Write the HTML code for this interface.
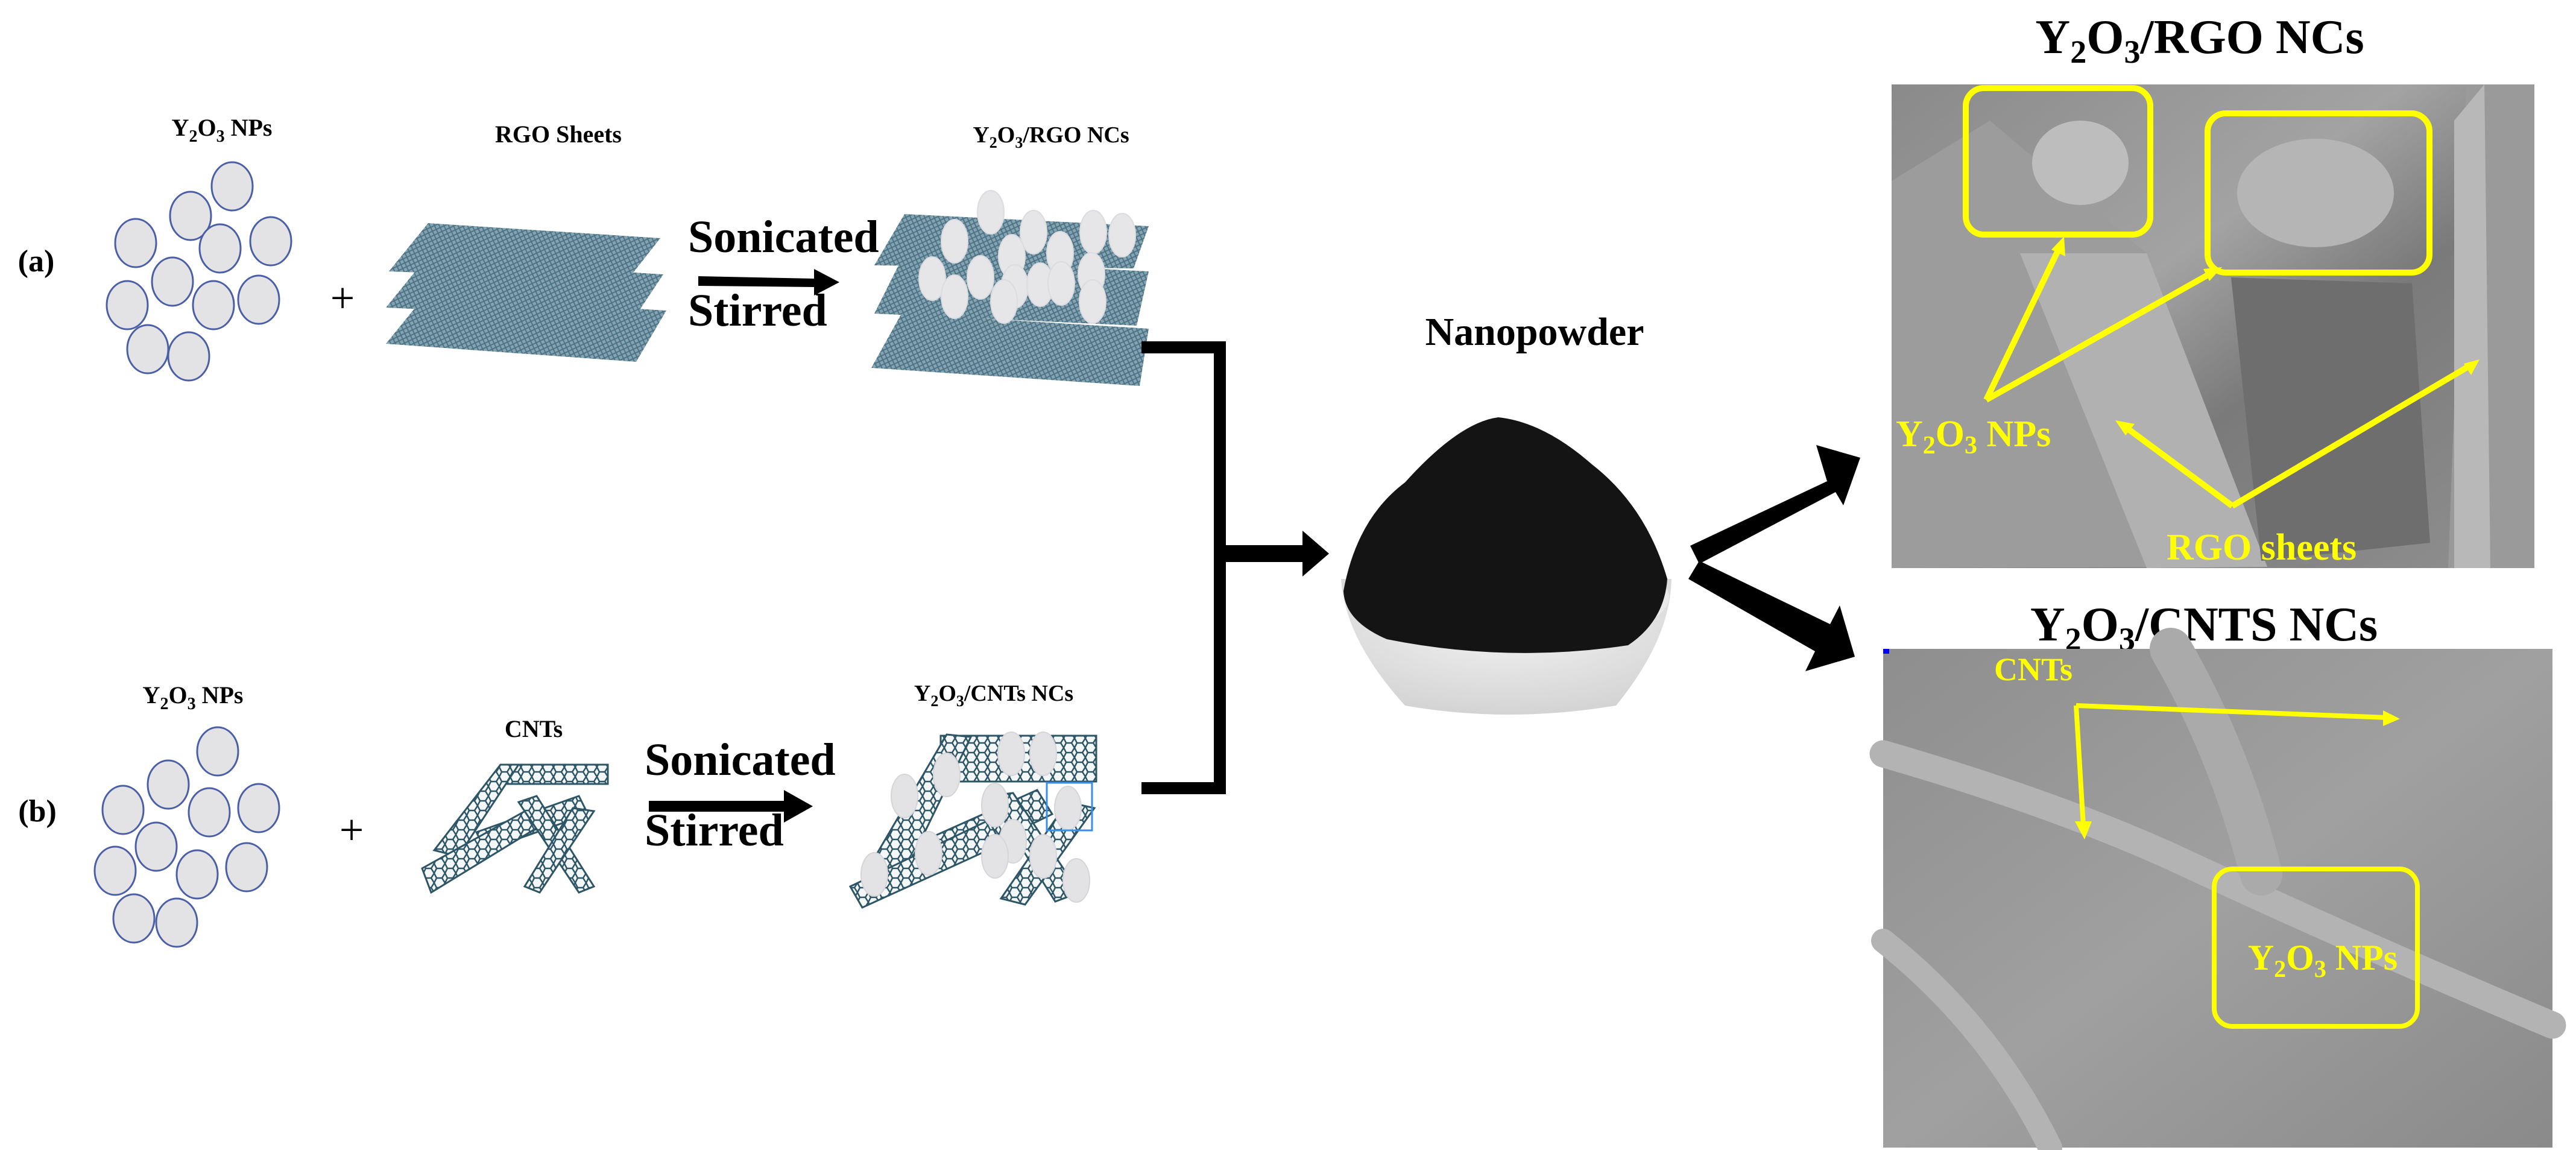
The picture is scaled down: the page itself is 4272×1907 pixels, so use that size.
<!DOCTYPE html>
<html><head><meta charset="utf-8"><style>
html,body{margin:0;padding:0;background:#fff;}
svg{display:block;}
text{font-family:"Liberation Serif",serif;font-weight:bold;}
</style></head><body>
<svg width="4272" height="1907" viewBox="0 0 4272 1907" xmlns="http://www.w3.org/2000/svg">
<defs>
<pattern id="mesh" width="10" height="10" patternUnits="userSpaceOnUse" patternTransform="rotate(20)">
<rect width="10" height="10" fill="#6f95a6"/>
<path d="M0 0L10 10M10 0L0 10" stroke="#2f5a6e" stroke-width="2"/>
</pattern>
<pattern id="hex" width="18" height="16" patternUnits="userSpaceOnUse">
<rect width="18" height="16" fill="#f4f7f8"/>
<path d="M4 0L13 0L18 8L13 16L4 16L0 8Z" fill="none" stroke="#2e5566" stroke-width="2.5"/>
</pattern>
<linearGradient id="sem1" x1="0" y1="0" x2="1" y2="1">
<stop offset="0" stop-color="#8a8a8a"/><stop offset="0.4" stop-color="#a3a3a3"/><stop offset="0.6" stop-color="#7a7a7a"/><stop offset="1" stop-color="#909090"/>
</linearGradient>
<linearGradient id="sem2" x1="0" y1="0" x2="1" y2="1">
<stop offset="0" stop-color="#8e8e8e"/><stop offset="0.5" stop-color="#a0a0a0"/><stop offset="1" stop-color="#8a8a8a"/>
</linearGradient>
<radialGradient id="bowl" cx="0.5" cy="0.3" r="0.8">
<stop offset="0" stop-color="#f4f4f4"/><stop offset="1" stop-color="#cfcfcf"/>
</radialGradient>
</defs>

<!-- (a) row -->
<text x="60" y="450" font-size="52" text-anchor="middle">(a)</text>
<text x="368" y="225" font-size="40" text-anchor="middle">Y<tspan font-size="28" dy="10">2</tspan><tspan dy="-10">O</tspan><tspan font-size="28" dy="10">3</tspan><tspan dy="-10"> NPs</tspan></text>
<g fill="#e3e3e6" stroke="#4a5fa6" stroke-width="3">
<ellipse cx="385" cy="309" rx="34" ry="40"/><ellipse cx="316" cy="358" rx="34" ry="40"/><ellipse cx="225" cy="403" rx="34" ry="40"/>
<ellipse cx="365" cy="412" rx="34" ry="40"/><ellipse cx="449" cy="400" rx="34" ry="40"/><ellipse cx="286" cy="467" rx="34" ry="40"/>
<ellipse cx="211" cy="506" rx="34" ry="40"/><ellipse cx="354" cy="506" rx="34" ry="40"/><ellipse cx="429" cy="497" rx="34" ry="40"/>
<ellipse cx="245" cy="579" rx="34" ry="40"/><ellipse cx="313" cy="591" rx="34" ry="40"/>
</g>
<text x="568" y="518" font-size="72" font-weight="normal" text-anchor="middle" style="font-weight:normal">+</text>
<text x="926" y="236" font-size="40" text-anchor="middle">RGO Sheets</text>
<g opacity="0.85">
<path d="M710 370 L1095 395 L1040 465 L645 450 Z" fill="url(#mesh)"/>
<path d="M705 430 L1100 455 L1050 530 L640 510 Z" fill="url(#mesh)"/>
<path d="M705 490 L1105 515 L1055 600 L640 570 Z" fill="url(#mesh)"/>
</g>
<text x="1141" y="418" font-size="76">Sonicated</text>
<text x="1141" y="540" font-size="76">Stirred</text>
<path d="M1158 458 L1350 462 L1350 446 L1392 468 L1350 490 L1350 476 L1158 474 Z" fill="#000"/>
<text x="1743" y="236" font-size="38" text-anchor="middle">Y<tspan font-size="26" dy="9">2</tspan><tspan dy="-9">O</tspan><tspan font-size="26" dy="9">3</tspan><tspan dy="-9">/RGO NCs</tspan></text>
<g opacity="0.85">
<path d="M1500 355 L1905 375 L1880 445 L1450 440 Z" fill="url(#mesh)"/>
<path d="M1495 430 L1905 450 L1885 540 L1450 520 Z" fill="url(#mesh)"/>
<path d="M1495 520 L1905 545 L1890 640 L1445 610 Z" fill="url(#mesh)"/>
</g>
<g fill="#e6e6e8" stroke="#dcdce0" stroke-width="2">
<ellipse cx="1643" cy="352" rx="22" ry="36"/><ellipse cx="1583" cy="400" rx="22" ry="36"/><ellipse cx="1714" cy="385" rx="22" ry="36"/>
<ellipse cx="1813" cy="385" rx="22" ry="36"/><ellipse cx="1861" cy="390" rx="22" ry="36"/><ellipse cx="1678" cy="425" rx="22" ry="36"/>
<ellipse cx="1758" cy="420" rx="22" ry="36"/><ellipse cx="1546" cy="462" rx="22" ry="36"/><ellipse cx="1626" cy="460" rx="22" ry="36"/>
<ellipse cx="1683" cy="475" rx="22" ry="36"/><ellipse cx="1725" cy="472" rx="22" ry="36"/><ellipse cx="1760" cy="470" rx="22" ry="36"/>
<ellipse cx="1810" cy="455" rx="22" ry="36"/><ellipse cx="1583" cy="492" rx="22" ry="36"/><ellipse cx="1665" cy="500" rx="22" ry="36"/>
<ellipse cx="1812" cy="500" rx="22" ry="36"/>
</g>

<!-- connector -->
<path d="M1893 576 L2023 576 L2023 1307 L1893 1307" fill="none" stroke="#000" stroke-width="20"/>
<path d="M2013 904 L2160 904 L2160 880 L2204 918 L2160 956 L2160 932 L2013 932 Z" fill="#000"/>

<!-- (b) row -->
<text x="62" y="1362" font-size="52" text-anchor="middle">(b)</text>
<text x="320" y="1166" font-size="40" text-anchor="middle">Y<tspan font-size="28" dy="10">2</tspan><tspan dy="-10">O</tspan><tspan font-size="28" dy="10">3</tspan><tspan dy="-10"> NPs</tspan></text>
<g fill="#e3e3e6" stroke="#4a5fa6" stroke-width="3">
<ellipse cx="361" cy="1246" rx="34" ry="40"/><ellipse cx="279" cy="1301" rx="34" ry="40"/><ellipse cx="204" cy="1343" rx="34" ry="40"/>
<ellipse cx="347" cy="1347" rx="34" ry="40"/><ellipse cx="429" cy="1340" rx="34" ry="40"/><ellipse cx="259" cy="1404" rx="34" ry="40"/>
<ellipse cx="191" cy="1444" rx="34" ry="40"/><ellipse cx="327" cy="1450" rx="34" ry="40"/><ellipse cx="409" cy="1438" rx="34" ry="40"/>
<ellipse cx="222" cy="1523" rx="34" ry="40"/><ellipse cx="293" cy="1530" rx="34" ry="40"/>
</g>
<text x="583" y="1400" font-size="72" text-anchor="middle" style="font-weight:normal">+</text>
<text x="885" y="1222" font-size="40" text-anchor="middle">CNTs</text>
<g stroke="#2e5566" stroke-width="3">
<path d="M840 1268 L1008 1268 L1008 1300 L840 1300 Z" fill="url(#hex)"/>
<path d="M830 1268 L860 1268 L760 1420 L720 1410 Z" fill="url(#hex)"/>
<path d="M790 1380 L960 1320 L975 1350 L805 1410 Z" fill="url(#hex)"/>
<path d="M700 1440 L880 1340 L895 1370 L715 1480 Z" fill="url(#hex)"/>
<path d="M860 1330 L890 1320 L985 1470 L960 1480 Z" fill="url(#hex)"/>
<path d="M950 1340 L985 1345 L895 1480 L870 1470 Z" fill="url(#hex)"/>
</g>
<text x="1069" y="1285" font-size="76">Sonicated</text>
<text x="1069" y="1402" font-size="76">Stirred</text>
<path d="M1076 1328 L1300 1328 L1300 1310 L1348 1337 L1300 1364 L1300 1346 L1076 1346 Z" fill="#000"/>
<text x="1648" y="1162" font-size="38" text-anchor="middle">Y<tspan font-size="26" dy="9">2</tspan><tspan dy="-9">O</tspan><tspan font-size="26" dy="9">3</tspan><tspan dy="-9">/CNTs NCs</tspan></text>
<g stroke="#2e5566" stroke-width="3">
<path d="M1560 1220 L1818 1220 L1818 1296 L1560 1296 Z" fill="url(#hex)"/>
<path d="M1570 1218 L1610 1222 L1490 1470 L1440 1440 Z" fill="url(#hex)"/>
<path d="M1530 1395 L1720 1310 L1745 1350 L1560 1440 Z" fill="url(#hex)"/>
<path d="M1410 1470 L1640 1360 L1660 1400 L1430 1505 Z" fill="url(#hex)"/>
<path d="M1640 1320 L1680 1315 L1790 1480 L1750 1495 Z" fill="url(#hex)"/>
<path d="M1770 1330 L1815 1340 L1700 1500 L1660 1490 Z" fill="url(#hex)"/>
</g>
<g fill="#e3e3e6" stroke="#d5d5da" stroke-width="2">
<ellipse cx="1677" cy="1250" rx="22" ry="36"/><ellipse cx="1730" cy="1250" rx="22" ry="36"/><ellipse cx="1570" cy="1285" rx="22" ry="36"/>
<ellipse cx="1500" cy="1320" rx="22" ry="36"/><ellipse cx="1650" cy="1335" rx="22" ry="36"/><ellipse cx="1771" cy="1340" rx="22" ry="36"/>
<ellipse cx="1680" cy="1395" rx="22" ry="36"/><ellipse cx="1540" cy="1415" rx="22" ry="36"/><ellipse cx="1650" cy="1420" rx="22" ry="36"/>
<ellipse cx="1730" cy="1420" rx="22" ry="36"/><ellipse cx="1450" cy="1450" rx="22" ry="36"/><ellipse cx="1785" cy="1460" rx="22" ry="36"/>
</g>
<rect x="1736" y="1298" width="75" height="79" fill="none" stroke="#3a8ee8" stroke-width="3"/>

<!-- nanopowder -->
<text x="2545" y="572" font-size="66" text-anchor="middle">Nanopowder</text>
<path d="M2224 960 Q2230 1060 2330 1170 Q2500 1200 2680 1170 Q2770 1060 2772 960 Z" fill="url(#bowl)"/>
<ellipse cx="2498" cy="990" rx="270" ry="85" fill="#e9e9e9"/>
<path d="M2228 980 Q2250 860 2330 800 Q2420 700 2485 692 Q2560 700 2640 770 Q2730 840 2765 960 Q2760 1030 2700 1070 Q2500 1100 2300 1060 Q2230 1030 2228 980 Z" fill="#141414"/>
<path d="M2803 905 L3030 798 L3012 738 L3085 759 L3057 838 L3044 816 L2818 935 Z" fill="#000"/>
<path d="M2800 960 L2818 930 L3035 1035 L3051 1004 L3076 1089 L2994 1113 L3010 1080 Z" fill="#000"/>

<!-- SEM 1 -->
<text x="3648" y="88" font-size="80" text-anchor="middle">Y<tspan font-size="54" dy="16">2</tspan><tspan dy="-16">O</tspan><tspan font-size="54" dy="16">3</tspan><tspan dy="-16">/RGO NCs</tspan></text>
<rect x="3137" y="140" width="1066" height="802" fill="url(#sem1)"/>
<path d="M3137 300 L3300 200 L3560 420 L3760 940 L3137 942 Z" fill="#9c9c9c"/>
<path d="M3350 420 L3560 420 L3760 940 L3560 942 Z" fill="#b1b1b1"/>
<path d="M3700 460 L4000 470 L4030 900 L3750 930 Z" fill="#6e6e6e"/>
<path d="M4090 140 L4203 140 L4203 942 L4060 942 Z" fill="#9a9a9a"/>
<path d="M4070 200 L4120 140 L4130 942 L4070 942 Z" fill="#b8b8b8"/>
<ellipse cx="3450" cy="270" rx="80" ry="70" fill="#bdbdbd"/>
<ellipse cx="3840" cy="320" rx="130" ry="90" fill="#b5b5b5"/>
<g fill="none" stroke="#ffff00" stroke-width="10">
<rect x="3260" y="146" width="306" height="243" rx="30"/>
<rect x="3661" y="188" width="368" height="264" rx="30"/>
<path d="M3294 663 L3418 405 M3294 663 L3672 450 M3702 839 L3522 706 M3702 839 L4100 604"/>
</g>
<g fill="#ffff00">
<path d="M3423 392 L3425 425 L3402 414 Z"/><path d="M3685 443 L3664 466 L3654 446 Z"/>
<path d="M3508 697 L3540 703 L3525 722 Z"/><path d="M4112 596 L4098 622 L4086 603 Z"/>
</g>
<text x="3144" y="740" font-size="62" fill="#ffff00">Y<tspan font-size="42" dy="12">2</tspan><tspan dy="-12">O</tspan><tspan font-size="42" dy="12">3</tspan><tspan dy="-12"> NPs</tspan></text>
<text x="3593" y="928" font-size="62" fill="#ffff00">RGO sheets</text>

<!-- SEM 2 -->
<text x="3655" y="1062" font-size="80" text-anchor="middle">Y<tspan font-size="54" dy="16">2</tspan><tspan dy="-16">O</tspan><tspan font-size="54" dy="16">3</tspan><tspan dy="-16">/CNTS NCs</tspan></text>
<rect x="3123" y="1076" width="1110" height="827" fill="url(#sem2)"/>
<rect x="3123" y="1076" width="10" height="8" fill="#0000ff"/>
<g fill="none" stroke="#b3b3b3" stroke-linecap="round">
<path d="M3123 1250 Q3400 1330 3600 1420 Q3900 1560 4233 1700" stroke-width="45"/>
<path d="M3123 1560 Q3300 1700 3400 1903" stroke-width="40"/>
<path d="M3600 1076 Q3700 1250 3750 1450" stroke-width="70" stroke="#aaaaaa"/>
</g>
<g fill="none" stroke="#ffff00" stroke-width="8">
<rect x="3672" y="1441" width="337" height="261" rx="30"/>
<path d="M3443 1170 L3455 1370 M3443 1170 L3960 1190"/>
</g>
<g fill="#ffff00">
<path d="M3457 1392 L3441 1362 L3469 1362 Z"/><path d="M3980 1192 L3952 1178 L3952 1204 Z"/>
</g>
<text x="3307" y="1128" font-size="54" fill="#ffff00">CNTs</text>
<text x="3852" y="1608" font-size="60" fill="#ffff00" text-anchor="middle">Y<tspan font-size="40" dy="12">2</tspan><tspan dy="-12">O</tspan><tspan font-size="40" dy="12">3</tspan><tspan dy="-12"> NPs</tspan></text>
</svg>
</body></html>
